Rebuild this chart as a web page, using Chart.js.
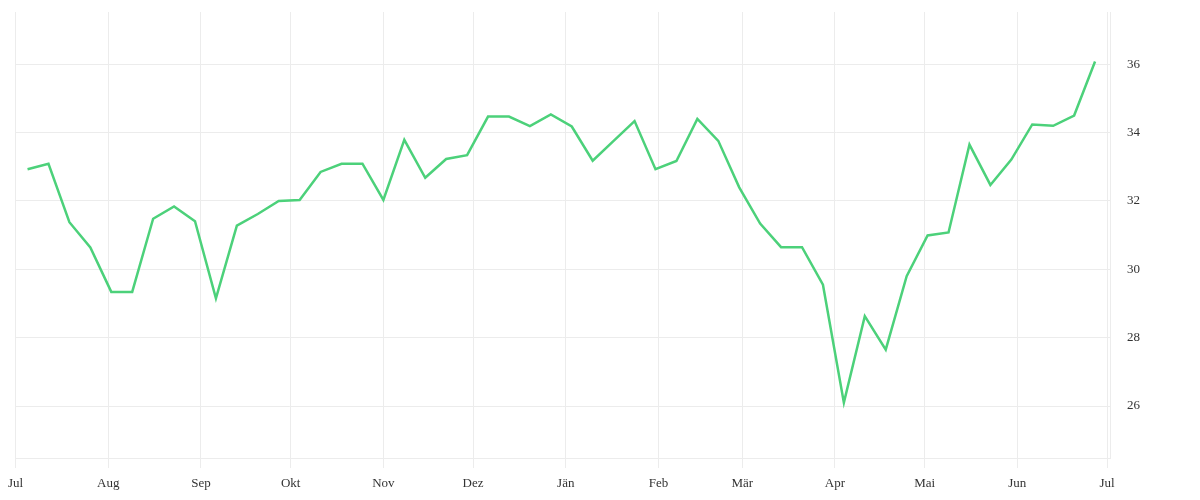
<!DOCTYPE html>
<html>
<head>
<meta charset="utf-8">
<script src="https://cdn.jsdelivr.net/npm/chart.js@4"></script>
<style>
html,body{margin:0;padding:0;background:#fff;}
#wrap{width:1200px;height:500px;position:relative;}
</style>
</head>
<body>
<div id="wrap"><canvas id="c" width="1200" height="500"></canvas></div>
<script>
// day offsets from 1 July (weekly observations)
const dayOffsets = [4,11,18,25,32,39,46,53,60,67,74,81,88,95,102,109,116,123,130,137,144,151,158,165,172,179,186,193,200,207,214,221,228,235,242,249,256,263,270,277,284,291,298,305,312,319,326,333,340,347,354,361];
const values = [32.93,33.09,31.38,30.64,29.34,29.34,31.48,31.84,31.41,29.15,31.28,31.62,32.00,32.03,32.85,33.09,33.09,32.03,33.79,32.68,33.23,33.34,34.47,34.47,34.19,34.53,34.18,33.18,33.76,34.34,32.93,33.17,34.40,33.76,32.40,31.34,30.65,30.65,29.55,26.10,28.63,27.65,29.80,30.99,31.08,33.65,32.47,33.21,34.24,34.20,34.50,36.08];
const monthDays = [0,31,62,92,123,153,184,215,243,274,304,335,365];
const monthLabels = ["Jul","Aug","Sep","Okt","Nov","Dez","Jän","Feb","Mär","Apr","Mai","Jun","Jul"];
const yTicks = [26,28,30,32,34,36];

const points = dayOffsets.map((d,i)=>({x:d,y:values[i]}));
const gridColor = '#ececec';
const font = {family:'"Liberation Serif", "Times New Roman", serif', size:13};

new Chart(document.getElementById('c'), {
  type:'line',
  data:{datasets:[{
    data:points,
    borderColor:'rgb(76,209,122)',
    borderWidth:2.5,
    pointRadius:0,
    pointHoverRadius:0,
    tension:0,
    fill:false
  }]},
  options:{
    responsive:false,
    animation:false,
    devicePixelRatio:1,
    layout:{padding:{left:15,top:12,right:0,bottom:0}},
    plugins:{legend:{display:false},tooltip:{enabled:false}},
    scales:{
      x:{
        type:'linear',
        min:0,max:366,
        afterBuildTicks:(s)=>{s.ticks = monthDays.map(v=>({value:v}));},
        afterFit:(s)=>{s.height=42;},
        ticks:{
          autoSkip:false,maxRotation:0,padding:8,color:'#333',font:font,
          callback:(v,i)=>monthLabels[i]
        },
        grid:{color:gridColor,tickLength:10,lineWidth:1},
        border:{display:true,color:gridColor}
      },
      y:{
        position:'right',
        min:24.48,max:37.53,
        afterBuildTicks:(s)=>{s.ticks = yTicks.map(v=>({value:v}));},
        afterFit:(s)=>{s.width=90;s.paddingTop=0;s.paddingBottom=0;},
        ticks:{padding:17,color:'#333',font:font,crossAlign:'near'},
        grid:{color:gridColor,drawTicks:false,lineWidth:1},
        border:{display:true,color:gridColor}
      }
    }
  }
});
</script>
</body>
</html>
